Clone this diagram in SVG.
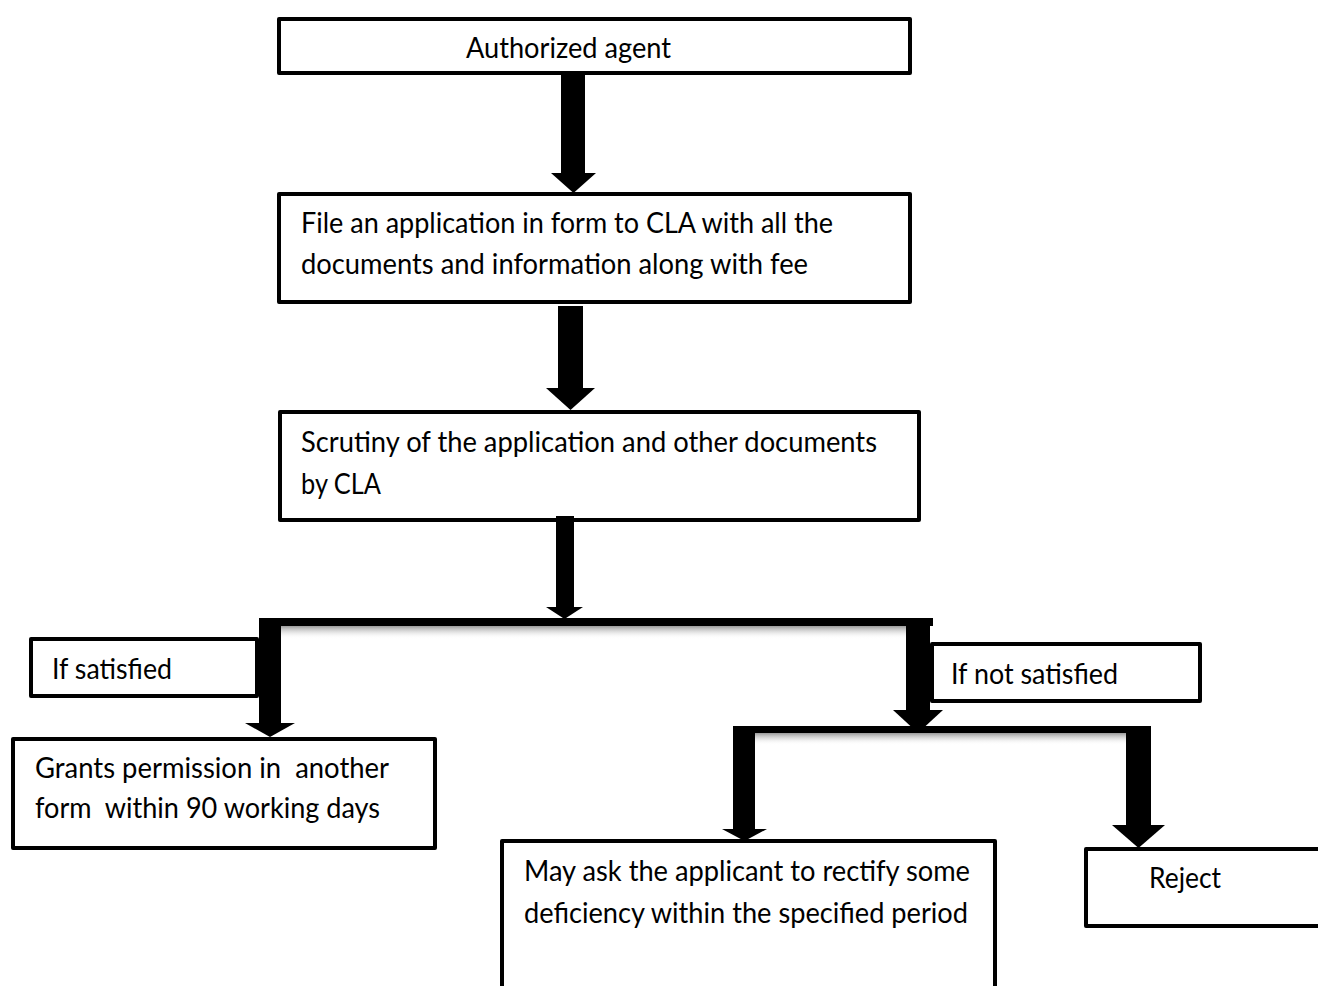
<svg xmlns="http://www.w3.org/2000/svg" width="1318" height="986" viewBox="0 0 1318 986">
<style>
.box{fill:#fff;stroke:#000;stroke-width:4;stroke-linejoin:round}
.t{font-family:Lato,"Liberation Sans",sans-serif;font-size:28px;fill:#000;white-space:pre}
.ar{fill:#000}
</style>
<defs>
<linearGradient id="sh" x1="0" y1="0" x2="0" y2="1">
<stop offset="0" stop-color="#9a9a9a"/>
<stop offset="1" stop-color="#ffffff" stop-opacity="0"/>
</linearGradient>
</defs>
<rect width="1318" height="986" fill="#fff"/>

<g id="n-agent">
<rect class="box" x="279" y="19" width="631" height="54"/>
<text class="t" x="466" y="58" textLength="205" lengthAdjust="spacingAndGlyphs">Authorized agent</text>
</g>
<g id="n-file">
<rect class="box" x="279" y="194" width="631" height="108"/>
<text class="t" x="301" y="233" textLength="532" lengthAdjust="spacingAndGlyphs">File an application in form to CLA with all the</text>
<text class="t" x="301" y="274" textLength="507" lengthAdjust="spacingAndGlyphs">documents and information along with fee</text>
</g>
<g id="n-scrutiny">
<rect class="box" x="280" y="412" width="639" height="108"/>
<text class="t" x="301" y="452" textLength="576" lengthAdjust="spacingAndGlyphs">Scrutiny of the application and other documents</text>
<text class="t" x="301" y="494" textLength="80" lengthAdjust="spacingAndGlyphs">by CLA</text>
</g>
<g id="n-if-satisfied">
<rect class="box" x="31" y="639" width="226" height="57"/>
<text class="t" x="52" y="679" textLength="120" lengthAdjust="spacingAndGlyphs">If satisfied</text>
</g>
<g id="n-grants">
<rect class="box" x="13" y="739" width="422" height="109"/>
<text class="t" x="35" y="778" textLength="354" lengthAdjust="spacingAndGlyphs">Grants permission in  another</text>
<text class="t" x="35" y="818" textLength="345" lengthAdjust="spacingAndGlyphs">form  within 90 working days</text>
</g>
<g id="n-if-not-satisfied">
<rect class="box" x="932" y="644" width="268" height="57"/>
<text class="t" x="951" y="684" textLength="167" lengthAdjust="spacingAndGlyphs">If not satisfied</text>
</g>
<g id="n-rectify">
<rect class="box" x="502" y="841" width="493" height="200"/>
<text class="t" x="524" y="881" textLength="446" lengthAdjust="spacingAndGlyphs">May ask the applicant to rectify some</text>
<text class="t" x="524" y="923" textLength="444" lengthAdjust="spacingAndGlyphs">deficiency within the specified period</text>
</g>
<g id="n-reject">
<rect class="box" x="1086" y="849" width="300" height="77"/>
<text class="t" x="1149" y="888" textLength="72" lengthAdjust="spacingAndGlyphs">Reject</text>
</g>

<g id="connectors">
<rect class="ar" x="561" y="73" width="24" height="102"/>
<polygon class="ar" points="551,173 596,173 573.5,193"/>
<rect class="ar" x="558" y="306" width="25" height="84"/>
<polygon class="ar" points="546,388 595,388 570.5,410"/>
<rect class="ar" x="556" y="516" width="18" height="93"/>
<polygon class="ar" points="546,607 583,607 564.5,619"/>
<rect x="281" y="626" width="625" height="13" fill="url(#sh)"/>
<rect class="ar" x="259" y="618" width="674" height="8"/>
<rect class="ar" x="259" y="618" width="22" height="107"/>
<polygon class="ar" points="245,723 295,723 270,737"/>
<rect class="ar" x="906" y="618" width="24" height="94"/>
<polygon class="ar" points="893,710 943,710 918,733"/>
<rect x="755" y="733" width="371" height="12" fill="url(#sh)"/>
<rect class="ar" x="740" y="726" width="398" height="7"/>
<rect class="ar" x="733" y="726" width="22" height="105"/>
<polygon class="ar" points="722,829 767,829 744.5,841"/>
<rect class="ar" x="1126" y="726" width="25" height="101"/>
<polygon class="ar" points="1112,825 1165,825 1138.5,848"/>
</g>
</svg>
